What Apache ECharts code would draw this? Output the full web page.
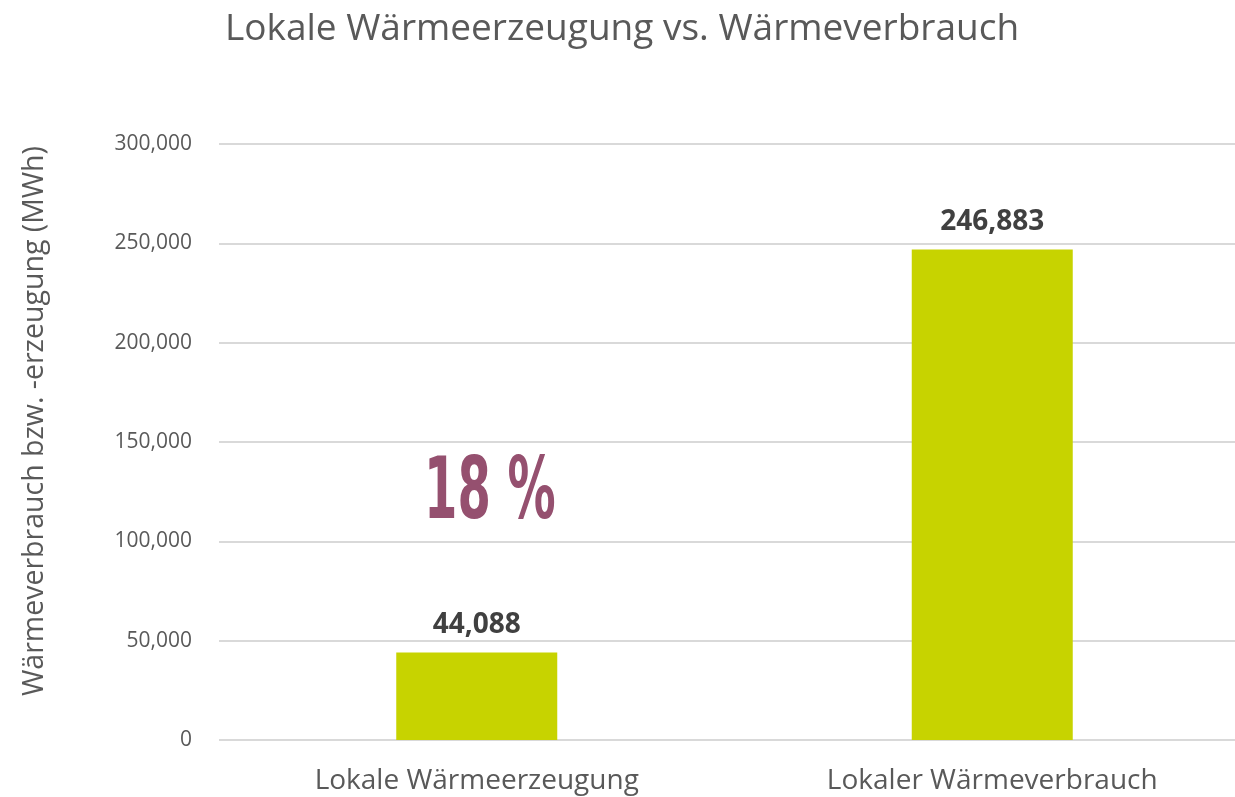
<!DOCTYPE html>
<html>
<head>
<meta charset="utf-8">
<script src="https://cdn.jsdelivr.net/npm/echarts@6/dist/echarts.min.js"></script>
<style>
	html, body { margin: 0; padding: 0; background: #fff; overflow: hidden; }
	#chart { width: 1252px; height: 797px; }
</style>
</head>
<body>
<div id="chart"></div>
<script>
const categories = ['Lokale Wärmeerzeugung', 'Lokaler Wärmeverbrauch']
const values = [44088, 246883]
const shareText = '18 %'

const font = '"Open Sans", "Noto Sans", sans-serif'
const fmt = v => v.toLocaleString('en-US')

// the plot runs past the right edge of the window, like in the original
let myChart = echarts.init(document.getElementById('chart'))
myChart.setOption({
	animation: false,
	title: {
		text: 'Lokale Wärmeerzeugung vs. Wärmeverbrauch',
		left: 617,
		textAlign: 'center',
		top: 6,
		textStyle: { fontFamily: font, fontWeight: 'normal', fontSize: 37, color: '#595959' },
	},
	grid: {
		left: 219,
		top: 144,
		width: 1031,
		height: 596,
	},
	xAxis: {
		type: 'category',
		data: categories,
		axisLine: { show: false },
		axisTick: { show: false },
		axisLabel: { fontFamily: font, fontSize: 28, color: '#595959', margin: 27 },
	},
	yAxis: {
		type: 'value',
		min: 0,
		max: 300000,
		interval: 50000,
		name: 'Wärmeverbrauch bzw. -erzeugung (MWh)',
		nameLocation: 'middle',
		nameGap: 170,
		nameRotate: 90,
		nameTextStyle: { fontFamily: font, fontSize: 28.5, color: '#595959', padding: [0, 0, 0, 42] },
		axisLabel: { fontFamily: font, fontSize: 21, color: '#595959', margin: 27, formatter: fmt },
		splitLine: { lineStyle: { color: '#d9d9d9', width: 2 } },
	},
	series: [
		{
			type: 'bar',
			data: values,
			barWidth: 161,
			itemStyle: { color: '#c7d300' },
			label: {
				show: true,
				position: 'top',
				distance: 13,
				fontFamily: font,
				fontWeight: 'bold',
				fontSize: 28,
				color: '#404040',
				formatter: p => fmt(p.value),
			},
		},
	],
	graphic: [
		{
			type: 'text',
			left: 424,
			top: 453,
			scaleX: 0.565,
			style: {
				text: shareText,
				fontFamily: '"DejaVu Sans", sans-serif',
				fontWeight: 'bold',
				fontSize: 85,
				fill: '#95506f',
			},
		},
	],
})
</script>
</body>
</html>
